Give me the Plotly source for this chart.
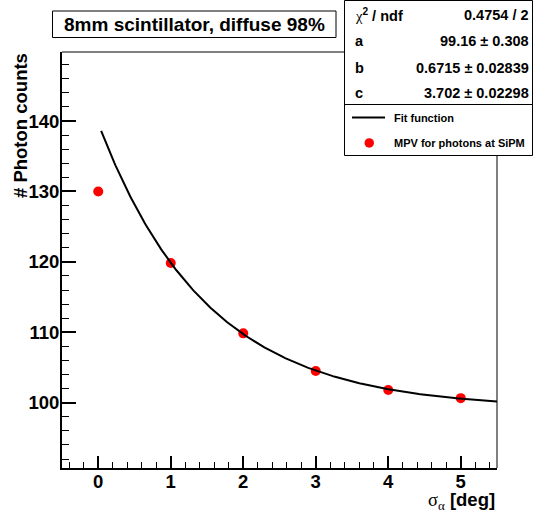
import numpy as np
import plotly.graph_objects as go

# ---- data ----
sigma_alpha = [0, 1, 2, 3, 4, 5]
photon_mpv = [130.0, 119.85, 109.85, 104.5, 101.8, 100.65]

# fit function  f(x) = a + exp(c - b*x)  with the parameters printed in the stats box
fit_a = 99.16
fit_b = 0.6715
fit_c = 3.702
fit_range = [0.04, 5.5]

stats_labels = ["<span style='font-family:Liberation Serif;font-weight:normal'>χ</span><sup>2</sup> / ndf", "a", "b", "c"]
stats_values = ["0.4754 / 2", "99.16 ± 0.308", "0.6715 ± 0.02839", "3.702 ± 0.02298"]

x_tick_vals = [0, 1, 2, 3, 4, 5]
y_tick_vals = [100, 110, 120, 130, 140]

title_text = "8mm scintillator, diffuse 98%"
y_title = "# Photon counts"
x_title = "<span style='font-family:Liberation Serif;font-weight:normal'>σ<sub>α</sub></span> [deg]"
legend_names = ["Fit function", "MPV for photons at SiPM"]

# ---- layout geometry (pixels) ----
W, H = 534, 519
L, R, T, B = 62, 497, 52, 468
PW, PH = R - L, B - T


def px(x):
    return (x - L) / PW


def py(y):
    return (B - y) / PH


FONT = "Liberation Sans, Arial, Helvetica, sans-serif"

fit_x = np.linspace(fit_range[0], fit_range[1], 300)
fit_y = fit_a + np.exp(fit_c - fit_b * fit_x)

fig = go.Figure()
fig.add_trace(go.Scatter(
    x=sigma_alpha, y=photon_mpv, mode="markers", name=legend_names[1],
    marker=dict(color="#ff0000", size=10, line=dict(width=0)),
    showlegend=False,
))
fig.add_trace(go.Scatter(
    x=fit_x, y=fit_y, mode="lines", name=legend_names[0],
    line=dict(color="black", width=2),
    showlegend=False,
))

axis_font = dict(family=FONT, size=18.5, color="black", weight="bold")

fig.update_xaxes(
    range=[-0.5, 5.5], showgrid=False, zeroline=False,
    showline=True, linecolor="black", linewidth=2,
    tickmode="array", tickvals=x_tick_vals,
    ticks="inside", ticklen=12, tickwidth=1.5, tickcolor="black",
    tickfont=axis_font, ticklabelstandoff=-4,
    minor=dict(ticks="inside", ticklen=6, tickwidth=1, tickcolor="black", dtick=0.2, tick0=0, showgrid=False),
)
fig.update_yaxes(
    range=[90.73, 149.8], showgrid=False, zeroline=False,
    showline=True, linecolor="black", linewidth=2,
    tickmode="array", tickvals=y_tick_vals,
    ticks="inside", ticklen=14, tickwidth=1.5, tickcolor="black",
    tickfont=axis_font, ticklabelstandoff=-3,
    minor=dict(ticks="inside", ticklen=7, tickwidth=1, tickcolor="black", dtick=2, tick0=0, showgrid=False),
)

shapes = [
    # top and right frame lines
    dict(type="line", xref="paper", yref="paper", x0=0, x1=1, y0=1, y1=1, line=dict(color="black", width=1)),
    dict(type="line", xref="paper", yref="paper", x0=1, x1=1, y0=0, y1=1, line=dict(color="black", width=1)),
    # title box
    dict(type="rect", xref="paper", yref="paper", x0=px(52.5), x1=px(336), y0=py(11), y1=py(37.5),
         line=dict(color="black", width=1), fillcolor="white", layer="above"),
    # stats / legend box
    dict(type="rect", xref="paper", yref="paper", x0=px(344.5), x1=px(532.5), y0=py(0.5), y1=py(155.5),
         line=dict(color="black", width=1), fillcolor="white", layer="above"),
    dict(type="line", xref="paper", yref="paper", x0=px(344.5), x1=px(532.5), y0=py(104.5), y1=py(104.5),
         line=dict(color="black", width=1), layer="above"),
    # legend glyphs
    dict(type="line", xref="paper", yref="paper", x0=px(352), x1=px(385), y0=py(117.5), y1=py(117.5),
         line=dict(color="black", width=2), layer="above"),
    dict(type="circle", xref="paper", yref="paper", x0=px(364.5), x1=px(374), y0=py(138.2), y1=py(147.7),
         line=dict(width=0), fillcolor="#ff0000", layer="above"),
]

annotations = [
    dict(text=title_text, xref="paper", yref="paper", x=px(194), y=py(24.5), xanchor="center", yanchor="middle",
         showarrow=False, font=dict(family=FONT, size=19, color="black", weight="bold")),
    dict(text=y_title, xref="paper", yref="paper", x=px(20), y=py(126), xanchor="center", yanchor="middle",
         textangle=-90, showarrow=False, font=dict(family=FONT, size=18.5, color="black", weight="bold")),
    dict(text=x_title, xref="paper", yref="paper", x=px(497), y=py(501), xanchor="right", yanchor="middle",
         showarrow=False, font=dict(family=FONT, size=18.5, color="black", weight="bold")),
]

row_y = [15, 41, 67.5, 92.5]
for lab, val, yy in zip(stats_labels, stats_values, row_y):
    annotations.append(dict(text=lab, xref="paper", yref="paper", x=px(353), y=py(yy), xanchor="left",
                            yanchor="middle", showarrow=False,
                            font=dict(family=FONT, size=14.5, color="black", weight="bold")))
    annotations.append(dict(text=val, xref="paper", yref="paper", x=px(531), y=py(yy), xanchor="right",
                            yanchor="middle", showarrow=False,
                            font=dict(family=FONT, size=14.5, color="black", weight="bold")))

legend_y = [117.5, 143]
for name, yy in zip(legend_names, legend_y):
    annotations.append(dict(text=name, xref="paper", yref="paper", x=px(392), y=py(yy), xanchor="left",
                            yanchor="middle", showarrow=False,
                            font=dict(family=FONT, size=11, color="black", weight="bold")))

fig.update_layout(
    width=W, height=H,
    margin=dict(l=L, r=W - R, t=T, b=H - B, pad=0),
    paper_bgcolor="white", plot_bgcolor="white",
    shapes=shapes, annotations=annotations,
    showlegend=False,
)

fig.write_html("out.html", config={"displayModeBar": False},
               post_script="document.body.style.margin='0px';document.body.style.padding='0px';")
